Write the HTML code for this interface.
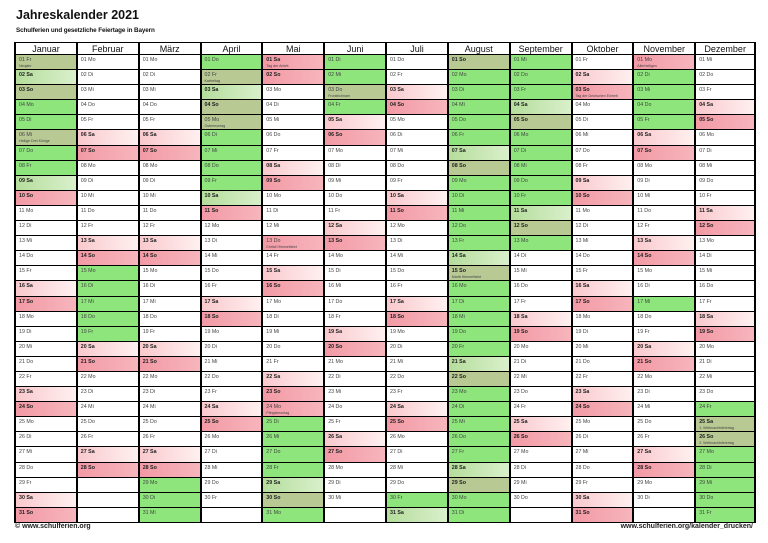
<!DOCTYPE html>
<html><head><meta charset="utf-8"><style>
*{margin:0;padding:0;box-sizing:border-box}
body{width:768px;height:543px;background:#fff;font-family:"Liberation Sans",sans-serif;position:relative;overflow:hidden}
h1{position:absolute;left:16px;top:8px;font-size:12.5px;font-weight:bold;color:#111}
.sub{position:absolute;left:16px;top:27px;font-size:6.3px;color:#111;font-weight:bold;letter-spacing:-0.1px}
.col{position:absolute;top:42px;width:62px;height:481px;border-left:2px solid #000;border-top:1.5px solid #000}
.col.last{border-right:2px solid #000}
.col>div{height:15.1px;border-bottom:1.3px solid #000;font-size:5.3px;color:#444;padding:3px 0 0 3px;line-height:5.5px;white-space:nowrap;overflow:hidden}
.col>div.hd{height:12px;font-size:9px;color:#111;text-align:center;padding:1px 0 0 0;line-height:10px;border-bottom:1.5px solid #000}
.col b{color:#222}
.col s{display:block;text-decoration:none;font-size:3.6px;line-height:4px;color:#444}
.g{background:#8de57c}
.h{background:linear-gradient(90deg,#b5dd9c,#d9f0cb)}
.o{background:#b8c994}
.a{background:linear-gradient(90deg,#f9c9cd,#fff0f0)}
.b{background:linear-gradient(90deg,#f29aa5,#f7b5bc)}
.ft{position:absolute;top:523px;font-size:7px;font-weight:bold;color:#222}
</style></head><body>
<h1>Jahreskalender 2021</h1>
<div class="sub">Schulferien und gesetzliche Feiertage in Bayern</div>

<div class="col" style="left:14px"><div class="hd">Januar</div>
<div class="o">01 Fr<s>Neujahr</s></div><div class="h"><b>02 Sa</b></div><div class="o"><b>03 So</b></div><div class="g">04 Mo</div><div class="g">05 Di</div><div class="o">06 Mi<s>Heilige Drei Könige</s></div><div class="g">07 Do</div><div class="g">08 Fr</div><div class="h"><b>09 Sa</b></div><div class="b"><b>10 So</b></div><div>11 Mo</div><div>12 Di</div><div>13 Mi</div><div>14 Do</div><div>15 Fr</div><div class="a"><b>16 Sa</b></div><div class="b"><b>17 So</b></div><div>18 Mo</div><div>19 Di</div><div>20 Mi</div><div>21 Do</div><div>22 Fr</div><div class="a"><b>23 Sa</b></div><div class="b"><b>24 So</b></div><div>25 Mo</div><div>26 Di</div><div>27 Mi</div><div>28 Do</div><div>29 Fr</div><div class="a"><b>30 Sa</b></div><div class="b"><b>31 So</b></div></div>

<div class="col" style="left:75.8px"><div class="hd">Februar</div>
<div>01 Mo</div><div>02 Di</div><div>03 Mi</div><div>04 Do</div><div>05 Fr</div><div class="a"><b>06 Sa</b></div><div class="b"><b>07 So</b></div><div>08 Mo</div><div>09 Di</div><div>10 Mi</div><div>11 Do</div><div>12 Fr</div><div class="a"><b>13 Sa</b></div><div class="b"><b>14 So</b></div><div class="g">15 Mo</div><div class="g">16 Di</div><div class="g">17 Mi</div><div class="g">18 Do</div><div class="g">19 Fr</div><div class="a"><b>20 Sa</b></div><div class="b"><b>21 So</b></div><div>22 Mo</div><div>23 Di</div><div>24 Mi</div><div>25 Do</div><div>26 Fr</div><div class="a"><b>27 Sa</b></div><div class="b"><b>28 So</b></div><div></div><div></div><div></div></div>

<div class="col" style="left:137.7px"><div class="hd">März</div>
<div>01 Mo</div><div>02 Di</div><div>03 Mi</div><div>04 Do</div><div>05 Fr</div><div class="a"><b>06 Sa</b></div><div class="b"><b>07 So</b></div><div>08 Mo</div><div>09 Di</div><div>10 Mi</div><div>11 Do</div><div>12 Fr</div><div class="a"><b>13 Sa</b></div><div class="b"><b>14 So</b></div><div>15 Mo</div><div>16 Di</div><div>17 Mi</div><div>18 Do</div><div>19 Fr</div><div class="a"><b>20 Sa</b></div><div class="b"><b>21 So</b></div><div>22 Mo</div><div>23 Di</div><div>24 Mi</div><div>25 Do</div><div>26 Fr</div><div class="a"><b>27 Sa</b></div><div class="b"><b>28 So</b></div><div class="g">29 Mo</div><div class="g">30 Di</div><div class="g">31 Mi</div></div>

<div class="col" style="left:199.5px"><div class="hd">April</div>
<div class="g">01 Do</div><div class="o">02 Fr<s>Karfreitag</s></div><div class="h"><b>03 Sa</b></div><div class="o"><b>04 So</b></div><div class="o">05 Mo<s>Ostermontag</s></div><div class="g">06 Di</div><div class="g">07 Mi</div><div class="g">08 Do</div><div class="g">09 Fr</div><div class="h"><b>10 Sa</b></div><div class="b"><b>11 So</b></div><div>12 Mo</div><div>13 Di</div><div>14 Mi</div><div>15 Do</div><div>16 Fr</div><div class="a"><b>17 Sa</b></div><div class="b"><b>18 So</b></div><div>19 Mo</div><div>20 Di</div><div>21 Mi</div><div>22 Do</div><div>23 Fr</div><div class="a"><b>24 Sa</b></div><div class="b"><b>25 So</b></div><div>26 Mo</div><div>27 Di</div><div>28 Mi</div><div>29 Do</div><div>30 Fr</div><div></div></div>

<div class="col" style="left:261.3px"><div class="hd">Mai</div>
<div class="b"><b>01 Sa</b><s>Tag der Arbeit</s></div><div class="b"><b>02 So</b></div><div>03 Mo</div><div>04 Di</div><div>05 Mi</div><div>06 Do</div><div>07 Fr</div><div class="a"><b>08 Sa</b></div><div class="b"><b>09 So</b></div><div>10 Mo</div><div>11 Di</div><div>12 Mi</div><div class="b">13 Do<s>Christi Himmelfahrt</s></div><div>14 Fr</div><div class="a"><b>15 Sa</b></div><div class="b"><b>16 So</b></div><div>17 Mo</div><div>18 Di</div><div>19 Mi</div><div>20 Do</div><div>21 Fr</div><div class="a"><b>22 Sa</b></div><div class="b"><b>23 So</b></div><div class="b">24 Mo<s>Pfingstmontag</s></div><div class="g">25 Di</div><div class="g">26 Mi</div><div class="g">27 Do</div><div class="g">28 Fr</div><div class="h"><b>29 Sa</b></div><div class="o"><b>30 So</b></div><div class="g">31 Mo</div></div>

<div class="col" style="left:323.2px"><div class="hd">Juni</div>
<div class="g">01 Di</div><div class="g">02 Mi</div><div class="o">03 Do<s>Fronleichnam</s></div><div class="g">04 Fr</div><div class="a"><b>05 Sa</b></div><div class="b"><b>06 So</b></div><div>07 Mo</div><div>08 Di</div><div>09 Mi</div><div>10 Do</div><div>11 Fr</div><div class="a"><b>12 Sa</b></div><div class="b"><b>13 So</b></div><div>14 Mo</div><div>15 Di</div><div>16 Mi</div><div>17 Do</div><div>18 Fr</div><div class="a"><b>19 Sa</b></div><div class="b"><b>20 So</b></div><div>21 Mo</div><div>22 Di</div><div>23 Mi</div><div>24 Do</div><div>25 Fr</div><div class="a"><b>26 Sa</b></div><div class="b"><b>27 So</b></div><div>28 Mo</div><div>29 Di</div><div>30 Mi</div><div></div></div>

<div class="col" style="left:385px"><div class="hd">Juli</div>
<div>01 Do</div><div>02 Fr</div><div class="a"><b>03 Sa</b></div><div class="b"><b>04 So</b></div><div>05 Mo</div><div>06 Di</div><div>07 Mi</div><div>08 Do</div><div>09 Fr</div><div class="a"><b>10 Sa</b></div><div class="b"><b>11 So</b></div><div>12 Mo</div><div>13 Di</div><div>14 Mi</div><div>15 Do</div><div>16 Fr</div><div class="a"><b>17 Sa</b></div><div class="b"><b>18 So</b></div><div>19 Mo</div><div>20 Di</div><div>21 Mi</div><div>22 Do</div><div>23 Fr</div><div class="a"><b>24 Sa</b></div><div class="b"><b>25 So</b></div><div>26 Mo</div><div>27 Di</div><div>28 Mi</div><div>29 Do</div><div class="g">30 Fr</div><div class="h"><b>31 Sa</b></div></div>

<div class="col" style="left:446.8px"><div class="hd">August</div>
<div class="o"><b>01 So</b></div><div class="g">02 Mo</div><div class="g">03 Di</div><div class="g">04 Mi</div><div class="g">05 Do</div><div class="g">06 Fr</div><div class="h"><b>07 Sa</b></div><div class="o"><b>08 So</b></div><div class="g">09 Mo</div><div class="g">10 Di</div><div class="g">11 Mi</div><div class="g">12 Do</div><div class="g">13 Fr</div><div class="h"><b>14 Sa</b></div><div class="o"><b>15 So</b><s>Mariä Himmelfahrt</s></div><div class="g">16 Mo</div><div class="g">17 Di</div><div class="g">18 Mi</div><div class="g">19 Do</div><div class="g">20 Fr</div><div class="h"><b>21 Sa</b></div><div class="o"><b>22 So</b></div><div class="g">23 Mo</div><div class="g">24 Di</div><div class="g">25 Mi</div><div class="g">26 Do</div><div class="g">27 Fr</div><div class="h"><b>28 Sa</b></div><div class="o"><b>29 So</b></div><div class="g">30 Mo</div><div class="g">31 Di</div></div>

<div class="col" style="left:508.7px"><div class="hd">September</div>
<div class="g">01 Mi</div><div class="g">02 Do</div><div class="g">03 Fr</div><div class="h"><b>04 Sa</b></div><div class="o"><b>05 So</b></div><div class="g">06 Mo</div><div class="g">07 Di</div><div class="g">08 Mi</div><div class="g">09 Do</div><div class="g">10 Fr</div><div class="h"><b>11 Sa</b></div><div class="o"><b>12 So</b></div><div class="g">13 Mo</div><div>14 Di</div><div>15 Mi</div><div>16 Do</div><div>17 Fr</div><div class="a"><b>18 Sa</b></div><div class="b"><b>19 So</b></div><div>20 Mo</div><div>21 Di</div><div>22 Mi</div><div>23 Do</div><div>24 Fr</div><div class="a"><b>25 Sa</b></div><div class="b"><b>26 So</b></div><div>27 Mo</div><div>28 Di</div><div>29 Mi</div><div>30 Do</div><div></div></div>

<div class="col" style="left:570.5px"><div class="hd">Oktober</div>
<div>01 Fr</div><div class="a"><b>02 Sa</b></div><div class="b"><b>03 So</b><s>Tag der Deutschen Einheit</s></div><div>04 Mo</div><div>05 Di</div><div>06 Mi</div><div>07 Do</div><div>08 Fr</div><div class="a"><b>09 Sa</b></div><div class="b"><b>10 So</b></div><div>11 Mo</div><div>12 Di</div><div>13 Mi</div><div>14 Do</div><div>15 Fr</div><div class="a"><b>16 Sa</b></div><div class="b"><b>17 So</b></div><div>18 Mo</div><div>19 Di</div><div>20 Mi</div><div>21 Do</div><div>22 Fr</div><div class="a"><b>23 Sa</b></div><div class="b"><b>24 So</b></div><div>25 Mo</div><div>26 Di</div><div>27 Mi</div><div>28 Do</div><div>29 Fr</div><div class="a"><b>30 Sa</b></div><div class="b"><b>31 So</b></div></div>

<div class="col" style="left:632.3px"><div class="hd">November</div>
<div class="b">01 Mo<s>Allerheiligen</s></div><div class="g">02 Di</div><div class="g">03 Mi</div><div class="g">04 Do</div><div class="g">05 Fr</div><div class="a"><b>06 Sa</b></div><div class="b"><b>07 So</b></div><div>08 Mo</div><div>09 Di</div><div>10 Mi</div><div>11 Do</div><div>12 Fr</div><div class="a"><b>13 Sa</b></div><div class="b"><b>14 So</b></div><div>15 Mo</div><div>16 Di</div><div class="g">17 Mi</div><div>18 Do</div><div>19 Fr</div><div class="a"><b>20 Sa</b></div><div class="b"><b>21 So</b></div><div>22 Mo</div><div>23 Di</div><div>24 Mi</div><div>25 Do</div><div>26 Fr</div><div class="a"><b>27 Sa</b></div><div class="b"><b>28 So</b></div><div>29 Mo</div><div>30 Di</div><div></div></div>

<div class="col last" style="left:694.2px"><div class="hd">Dezember</div>
<div>01 Mi</div><div>02 Do</div><div>03 Fr</div><div class="a"><b>04 Sa</b></div><div class="b"><b>05 So</b></div><div>06 Mo</div><div>07 Di</div><div>08 Mi</div><div>09 Do</div><div>10 Fr</div><div class="a"><b>11 Sa</b></div><div class="b"><b>12 So</b></div><div>13 Mo</div><div>14 Di</div><div>15 Mi</div><div>16 Do</div><div>17 Fr</div><div class="a"><b>18 Sa</b></div><div class="b"><b>19 So</b></div><div>20 Mo</div><div>21 Di</div><div>22 Mi</div><div>23 Do</div><div class="g">24 Fr</div><div class="o"><b>25 Sa</b><s>1. Weihnachtsfeiertag</s></div><div class="o"><b>26 So</b><s>2. Weihnachtsfeiertag</s></div><div class="g">27 Mo</div><div class="g">28 Di</div><div class="g">29 Mi</div><div class="g">30 Do</div><div class="g">31 Fr</div></div>

<div class="ft" style="left:15px">© www.schulferien.org</div>
<div class="ft" style="right:15px">www.schulferien.org/kalender_drucken/</div>
</body></html>
